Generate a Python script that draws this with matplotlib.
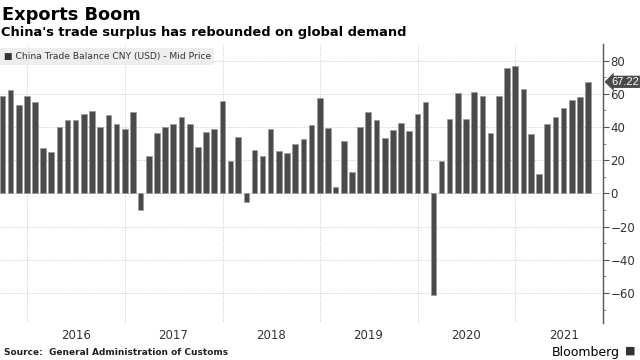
import matplotlib
matplotlib.use("Agg")
import matplotlib.pyplot as plt
import pandas as pd
import numpy as np

# ---- data (USD bn), monthly, Sep 2015 .. Sep 2021 ----
start_month = "2015-09-30"
values = [
    58.6, 62.0, 53.4, 58.4,                                              # 2015 Sep-Dec
    55.2, 27.4, 25.2, 40.0, 44.4, 44.0, 47.6, 49.8, 40.0, 47.2, 41.8, 38.6,  # 2016
    49.0, -10.0, 22.4, 36.2, 40.0, 42.0, 45.8, 42.0, 28.2, 37.2, 38.6, 55.6,  # 2017
    19.8, 34.0, -5.4, 26.4, 22.8, 39.0, 25.4, 24.6, 29.8, 32.6, 41.2, 57.6,   # 2018
    39.6, 4.0, 31.4, 13.0, 39.8, 48.8, 44.0, 33.4, 38.0, 42.2, 37.4, 47.6,    # 2019
    55.0, -61.0, 19.8, 44.6, 60.6, 44.6, 61.2, 58.6, 36.2, 58.6, 75.6, 76.6,  # 2020
    62.8, 35.6, 11.6, 42.0, 46.2, 51.2, 56.0, 58.0, 67.22,                    # 2021
]
dates = pd.date_range(start_month, periods=len(values), freq="ME")
last_label = "67.22"
y_ticks = [-60, -40, -20, 0, 20, 40, 60, 80]
years = [2016, 2017, 2018, 2019, 2020, 2021]

title = "Exports Boom"
subtitle = "China's trade surplus has rebounded on global demand"
legend_label = "China Trade Balance CNY (USD) - Mid Price"
source = "Source:  General Administration of Customs"

bar_color = "#4a4a4a"
grid_color = "#c8c8c8"

fig = plt.figure(figsize=(6.4, 3.6), dpi=100)
ax = fig.add_axes([0.0, 0.1028, 0.9427, 0.775])

ax.bar(dates, values, width=21, color=bar_color, edgecolor="#9a9a9a",
       linewidth=0.5, zorder=3)

ax.set_xlim(pd.Timestamp("2015-09-21"), pd.Timestamp("2021-11-26"))
ax.set_ylim(-78, 90)

ax.set_yticks(y_ticks)
ax.set_yticks(np.arange(-70, 90, 10), minor=True)
ax.yaxis.tick_right()
ax.tick_params(axis="y", which="major", length=4, width=0.8, color="#555555",
               labelsize=8.5, labelcolor="#333333", pad=1)
ax.tick_params(axis="y", which="minor", length=2.5, width=0.6, color="#777777")
ax.grid(axis="y", which="major", linestyle=(0, (1, 1.5)), color=grid_color,
        linewidth=0.7, zorder=0)

year_starts = [pd.Timestamp(f"{y}-01-01") for y in years]
for ys in year_starts:
    ax.axvline(ys, color=grid_color, linestyle=(0, (1, 1.5)), linewidth=0.7,
               zorder=0)
ax.set_xticks([pd.Timestamp(f"{y}-07-01") for y in years])
ax.set_xticklabels([str(y) for y in years])
ax.tick_params(axis="x", length=0, labelsize=8.5, labelcolor="#333333", pad=4)

for s in ["top", "left", "bottom"]:
    ax.spines[s].set_visible(False)
ax.spines["right"].set_color("#555555")
ax.spines["right"].set_linewidth(1.0)

# last-value tag
ax.annotate(last_label, xy=(1.0, values[-1]), xycoords=("axes fraction", "data"),
            xytext=(5.5, 0), textcoords="offset points", ha="left", va="center",
            fontsize=8, color="white", family="Liberation Sans",
            bbox=dict(boxstyle="larrow,pad=0.1", fc="#4a4a4a", ec="none"),
            annotation_clip=False, zorder=5)

# legend box
ax.text(0.006, 0.955, "\u25A0 " + legend_label, transform=ax.transAxes,
        ha="left", va="center", fontsize=6.6, color="#333333",
        bbox=dict(boxstyle="square,pad=0.4", fc="#eeeeee", ec="none"),
        zorder=6)

fig.text(0.003, 0.958, title, fontsize=12.8, fontweight="bold", ha="left",
         va="center", color="black")
fig.text(0.002, 0.910, subtitle, fontsize=9.4, fontweight="bold", ha="left",
         va="center", color="black")
fig.text(0.007, 0.020, source, fontsize=6.5, fontweight="bold", ha="left",
         va="center", color="#222222")
fig.text(0.968, 0.022, "Bloomberg", fontsize=9, ha="right", va="center",
         color="black")
fig.text(0.984, 0.025, "\u25A0", fontsize=8, ha="center", va="center",
         color="#333333")

fig.savefig("out.png", dpi=100)
